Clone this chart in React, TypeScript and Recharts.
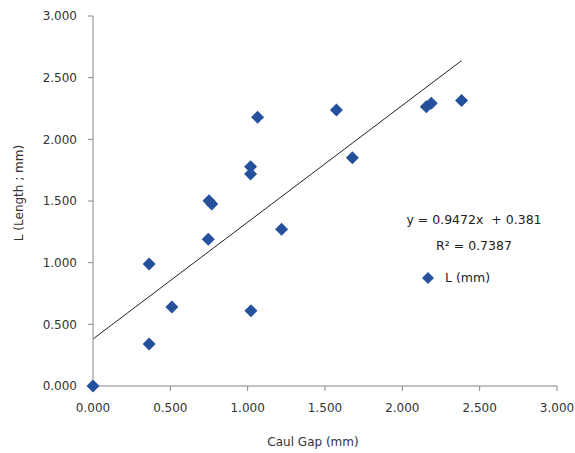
import React from "react";
import {
  ScatterChart,
  Scatter,
  XAxis,
  YAxis,
  ReferenceLine,
  Legend,
} from "recharts";

const caulGap = [
  0, 0.363, 0.363, 0.51, 0.745, 0.75, 0.768, 1.019, 1.019, 1.021, 1.064,
  1.219, 1.574, 1.677, 2.155, 2.187, 2.383,
];
const lengthL = [
  0, 0.34, 0.99, 0.64, 1.19, 1.503, 1.476, 1.778, 1.719, 0.61, 2.18, 1.27,
  2.238, 1.851, 2.265, 2.292, 2.314,
];
const axisTicks = [0, 0.5, 1, 1.5, 2, 2.5, 3];
const slope = 0.9472;
const intercept = 0.381;
const rSquared = 0.7387;

const points = caulGap.map((x, i) => ({ x, y: lengthL[i] }));
const xMax = Math.max(...caulGap);

const BLUE = "#24509c";
const FONT = "'DejaVu Sans', Verdana, sans-serif";

const Diamond = (props: any) => {
  const { cx, cy } = props;
  const r = 6.5;
  return (
    <polygon
      points={`${cx},${cy - r} ${cx + r},${cy} ${cx},${cy + r} ${cx - r},${cy}`}
      fill={BLUE}
    />
  );
};

const LegendBox = () => (
  <div style={{ fontFamily: FONT, fontSize: 12.5, color: "#222", width: 170 }}>
    <div style={{ textAlign: "center", lineHeight: "26px", whiteSpace: "pre" }}>
      {`y = ${slope}x  + ${intercept}`}
    </div>
    <div style={{ textAlign: "center", lineHeight: "26px" }}>
      R² = {rSquared}
    </div>
    <div style={{ display: "flex", alignItems: "center", marginTop: 11, paddingLeft: 32 }}>
      <svg width={14} height={14}>
        <polygon points="7,1 13,7 7,13 1,7" fill={BLUE} />
      </svg>
      <span style={{ marginLeft: 10 }}>L (mm)</span>
    </div>
  </div>
);

const fmt = (v: number) => v.toFixed(3);

const App: React.FC = () => {
  return (
    <div style={{ position: "absolute", left: 0, top: 0, background: "#fff" }}>
      <ScatterChart
        width={575}
        height={453}
        margin={{ top: 16, right: 18, left: 0, bottom: 0 }}
      >
        <XAxis
          type="number"
          dataKey="x"
          domain={[0, 3]}
          ticks={axisTicks}
          tickFormatter={fmt}
          height={67}
          stroke="#868686"
          tickSize={5}
          tickMargin={12}
          tick={{ fill: "#333", fontFamily: FONT, fontSize: 12 }}
          label={{
            content: (p: any) => {
              const vb = p.viewBox;
              return (
                <text
                  x={vb.x + vb.width / 2 - 12}
                  y={vb.y + vb.height - 7}
                  textAnchor="middle"
                  fill="#333"
                  fontFamily={FONT}
                  fontSize={12}
                >
                  Caul Gap (mm)
                </text>
              );
            },
          }}
        />
        <YAxis
          type="number"
          dataKey="y"
          domain={[0, 3]}
          ticks={axisTicks}
          tickFormatter={fmt}
          width={93}
          stroke="#868686"
          tickSize={5}
          tickMargin={11}
          tick={{ fill: "#333", fontFamily: FONT, fontSize: 12 }}
          label={{
            content: (p: any) => {
              const vb = p.viewBox;
              const cx = 19;
              const cy = vb.y + vb.height / 2 - 8;
              return (
                <text
                  x={cx}
                  y={cy}
                  transform={`rotate(-90 ${cx} ${cy})`}
                  textAnchor="middle"
                  dominantBaseline="central"
                  fill="#333"
                  fontFamily={FONT}
                  fontSize={12}
                >
                  L (Length ; mm)
                </text>
              );
            },
          }}
        />
        <ReferenceLine
          segment={[
            { x: 0, y: intercept },
            { x: xMax, y: slope * xMax + intercept },
          ]}
          stroke="#222"
          strokeWidth={1}
          ifOverflow="visible"
        />
        <Scatter
          data={points}
          fill={BLUE}
          shape={<Diamond />}
          isAnimationActive={false}
        />
        <Legend
          layout="horizontal"
          verticalAlign="middle"
          align="center"
          content={<LegendBox />}
          wrapperStyle={{ position: "absolute", left: 389, top: 207, width: 170 }}
        />
      </ScatterChart>
    </div>
  );
};

export default App;
